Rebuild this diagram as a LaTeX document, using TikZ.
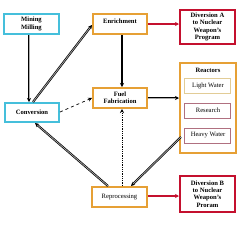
\documentclass[tikz,border=0pt]{standalone}
\usepackage{fontspec}
\setmainfont{Liberation Serif}
\usetikzlibrary{arrows.meta}
\definecolor{cyanb}{HTML}{45BFDB}
\definecolor{orangeb}{HTML}{E6A035}
\definecolor{redb}{HTML}{C4102E}
\definecolor{tanb}{HTML}{E2CC96}
\definecolor{mauveb}{HTML}{B07080}
\begin{document}
\begin{tikzpicture}[x=1pt,y=-1pt,
  txt/.style={font=\fontsize{6.6}{7.2}\selectfont\bfseries, align=center},
  plain/.style={font=\fontsize{6.6}{7.2}\selectfont, align=center},
  box/.style={draw, line width=1.3pt, fill=white},
  dbl/.style={draw=black, line width=0.7pt, double=gray!65, double distance=0.7pt, -{Stealth[length=4pt,width=4pt]}},
  thk/.style={draw=black, line width=1.3pt, -{Stealth[length=4pt,width=4pt]}},
  redar/.style={draw=redb, line width=1.6pt, -{Stealth[length=4pt,width=4pt]}},
  dsh/.style={draw=black, line width=0.7pt, dashed, -{Stealth[length=4pt,width=4pt]}},
  dot/.style={draw=black, line width=0.8pt, densely dotted, -{Stealth[length=4pt,width=4pt]}}]
\useasboundingbox (0,0) rectangle (250,226);
% boxes
\draw[box, draw=cyanb] (4,14) rectangle (59,34);
\node[txt] (mining) at (31.5,24) {Mining\\Milling};
\draw[box, draw=cyanb] (5,103) rectangle (59,122);
\node[txt] (conv) at (32,112.5) {Conversion};
\draw[box, draw=orangeb] (93,14) rectangle (147,34);
\node[txt] (enr) at (120,21) {Enrichment};
\draw[box, draw=redb] (180,10) rectangle (235,44);
\node[txt] (divA) at (207.5,27) {Diversion A\\to Nuclear\\Weapon's\\Program};
\draw[box, draw=orangeb] (93,88) rectangle (147,108);
\node[txt] (fuel) at (120,98) {Fuel\\Fabrication};
\draw[box, draw=orangeb, line width=1.6pt] (180,63) rectangle (236,153);
\node[txt] (reac) at (208,70) {Reactors};
\draw[draw=tanb, line width=1pt] (185,78) rectangle (231,93);
\node[plain] (lw) at (208,85.5) {Light Water};
\draw[draw=mauveb, line width=1pt] (185,103) rectangle (231,118);
\node[plain] (res) at (208,110.5) {Research};
\draw[draw=mauveb, line width=1pt] (185,128) rectangle (231,143);
\node[plain] (hw) at (208,135.5) {Heavy Water};
\draw[box, draw=orangeb] (92,187) rectangle (147,207);
\node[plain] (rep) at (119.5,197) {Reprocessing};
\draw[box, draw=redb] (180,176) rectangle (235,212);
\node[txt] (divB) at (207.5,194) {Diversion B\\to Nuclear\\Weapon's\\Proram};
% connector anchor coordinates
\coordinate (mb) at (29,35);
\coordinate (ct) at (29,102);
\coordinate (ct2) at (33,102);
\coordinate (el) at (92,25);
\coordinate (eb) at (122,35);
\coordinate (ft) at (122,87);
\coordinate (fl) at (92,98);
\coordinate (fr) at (148,98);
\coordinate (fb) at (122,109);
\coordinate (cr) at (60,112);
\coordinate (er) at (148,24);
\coordinate (dAl) at (179,24);
\coordinate (rl) at (179,98);
\coordinate (hwl) at (181,137);
\coordinate (rpt) at (131,186);
\coordinate (rpt2) at (108,186);
\coordinate (rpt3) at (122,186);
\coordinate (cb) at (35,123);
\coordinate (rpr) at (148,196);
\coordinate (dBl) at (179,196);
% connectors
\draw[dbl] (mb) -- (ct);
\draw[dbl] (ct2) -- (el);
\draw[thk] (eb) -- (ft);
\draw[redar] (er) -- (dAl);
\draw[dsh] (cr) -- (fl);
\draw[dbl] (fr) -- (rl);
\draw[dot] (rpt3) -- (fb);
\draw[dbl] (hwl) -- (rpt);
\draw[dbl] (rpt2) -- (cb);
\draw[redar] (rpr) -- (dBl);
\end{tikzpicture}
\end{document}
